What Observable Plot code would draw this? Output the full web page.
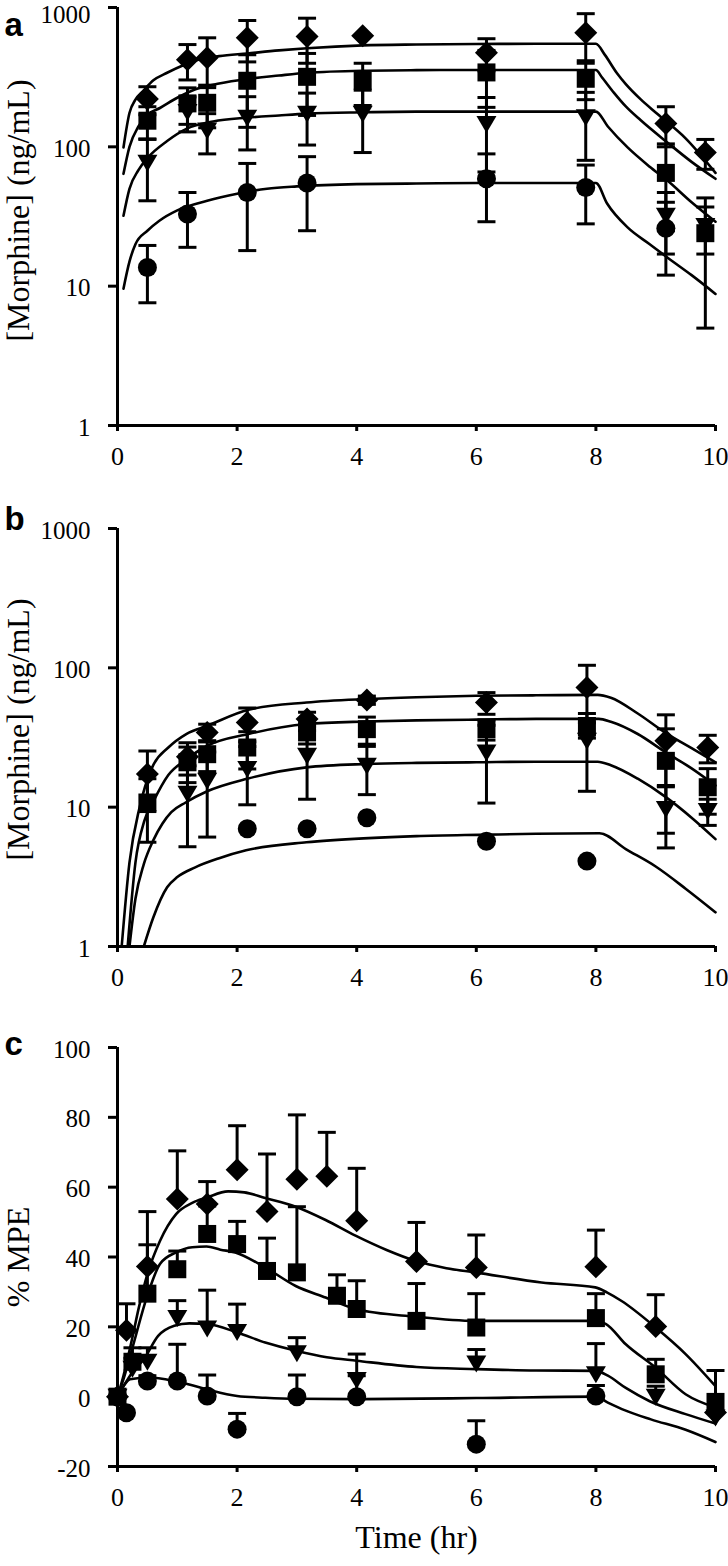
<!DOCTYPE html>
<html><head><meta charset="utf-8">
<script src="https://cdn.jsdelivr.net/npm/d3@7"></script>
<script src="https://cdn.jsdelivr.net/npm/@observablehq/plot@0.6"></script>
<style>
body{margin:0;background:#fff;}
#wrap{position:relative;width:728px;height:1566px;background:#fff;overflow:hidden;}
#wrap > svg{position:absolute;left:0;}
</style></head><body><div id="wrap"></div>
<script>
// ---------- Panel a : plasma morphine (log) ----------
const aTime = [0.5, 1.17, 1.5, 2.17, 3.17, 4.1, 6.17, 7.83, 9.17, 9.83];
const aDiamond   = [220, 422, 436, 607, 618, 628, 474, 659, 147, 91];
const aDiamondSD = [50, 120, 170, 200, 220, 0, 123, 244, 47, 22];
const aSquare    = [154, 205, 207, 298, 318, 298, 342, 308, 65, 24];
const aSquareSD  = [40, 60, 70, 160, 150, 100, 150, 90, 40, 19];
const aTriangle   = [77, 178, 131, 162, 173, 173, 146, 163, 32, 27];
const aTriangleSD = [36, 50, 42, 67, 70, 82, 80, 83, 15, 10];
const aCircleTime = [0.5, 1.17, 2.17, 3.17, 6.17, 7.83, 9.17];
const aCircle     = [13.6, 33, 47, 55, 59, 51, 26];
const aCircleSD   = [6, 14, 29, 30, 30, 23, 14];

const aFitDiamondT = [0.1, 0.2, 0.3, 0.43, 0.6, 0.83, 1.1, 1.38, 1.7, 2.17, 2.7, 3.17, 4.1, 5, 6, 7, 8, 8.15, 8.35, 8.5, 8.75, 9.03, 9.5, 10];
const aFitDiamond  = [99, 175, 218, 252, 300, 340, 385, 425, 448, 468, 492, 510, 535, 543, 547, 549, 549, 457, 339, 282, 219, 172, 115, 65];
const aFitSquareT  = [0.1, 0.2, 0.35, 0.5, 0.71, 1.0, 1.38, 1.7, 2.17, 2.7, 3.17, 4.1, 5, 6, 7, 8, 8.1, 8.3, 8.5, 8.75, 9.2, 9.6, 10];
const aFitSquare   = [64, 100, 140, 170, 190, 225, 265, 285, 307, 325, 340, 352, 355, 356, 356, 356, 316, 245, 195, 155, 107, 78, 59];
const aFitTriT     = [0.1, 0.2, 0.35, 0.5, 0.83, 1.16, 1.6, 2.17, 2.7, 3.17, 4.1, 5, 6, 7, 8, 8.2, 8.53, 8.9, 9.2, 9.6, 10];
const aFitTri      = [32, 50, 68, 83, 110, 135, 152, 162, 168, 173, 177, 179, 179, 179, 179, 140, 99, 72, 57, 40, 29];
const aFitCircT    = [0.1, 0.2, 0.3, 0.5, 0.7, 1.0, 1.5, 2.0, 2.5, 3.0, 4.0, 5, 6, 7, 8, 8.19, 8.53, 8.9, 9.2, 9.6, 10];
const aFitCirc     = [9.6, 15, 20, 25, 29.5, 35, 41, 46, 50, 52, 54, 54.5, 55, 55, 55, 39, 26.4, 20, 16, 12, 8.8];

// ---------- Panel b : brain morphine (log) ----------
const bTime = [0.5, 1.17, 1.5, 2.17, 3.17, 4.17, 6.17, 7.85, 9.17, 9.87];
const bDiamond   = [17.3, 23, 34.4, 40.5, 43, 58.7, 56.4, 72.3, 30, 26.8];
const bDiamondSD = [8, 6, 5, 11, 5, 4, 10, 32, 16, 6];
const bSquare    = [10.8, 21, 24, 26.8, 34.4, 36.3, 36.3, 37.3, 21.5, 13.9];
const bSquareSD  = [5.2, 6, 6, 8, 6, 8, 6, 6, 15, 5];
const bTriTime   = [1.17, 1.5, 2.17, 3.17, 4.17, 6.17, 7.85, 9.17, 9.87];
const bTriangle   = [12.5, 15.5, 18.8, 23.4, 19.8, 24.7, 30, 9.7, 9.4];
const bTriangleSD = [7.3, 9.4, 8.4, 12, 7.5, 14, 17, 4.6, 2];
const bCircleTime = [2.17, 3.17, 4.17, 6.17, 7.85];
const bCircle     = [7.0, 7.0, 8.4, 5.7, 4.1];

const bFitDiamondT = [0.07, 0.2, 0.37, 0.58, 0.85, 1.15, 1.5, 2.19, 3.16, 4.16, 5, 6, 7, 8.03, 8.25, 8.7, 9.17, 9.6, 10];
const bFitDiamond  = [1, 4, 10, 19.3, 26.8, 33.5, 38.4, 50, 56.4, 59.7, 61.5, 63, 63.5, 64, 61, 47, 34, 26.5, 21];
const bFitSquareT  = [0.17, 0.3, 0.45, 0.6, 0.85, 1.15, 1.5, 2.19, 3.16, 4.16, 5, 6, 7, 8.05, 8.25, 8.7, 9.17, 9.6, 10];
const bFitSquare   = [1, 4, 8, 11, 17, 22, 27.6, 33.5, 39.5, 41.2, 42, 42.5, 43, 43, 41, 33.5, 24.7, 19, 14.3];
const bFitTriT     = [0.2, 0.3, 0.44, 0.6, 0.75, 0.9, 1.14, 1.5, 2.17, 3.16, 4.16, 5, 6, 7, 8.03, 8.25, 8.7, 9.17, 9.6, 10];
const bFitTri      = [1, 2.2, 3.9, 5.8, 7.6, 9.2, 10.8, 13, 16, 19.3, 20.4, 20.8, 21, 21.2, 21.2, 20, 16, 11.8, 8.4, 5.9];
const bFitCircT    = [0.44, 0.6, 0.83, 1.0, 1.3, 1.7, 2.15, 3.16, 4.2, 5, 6.2, 7, 8.06, 8.5, 9.0, 9.5, 10];
const bFitCirc     = [1, 1.62, 2.66, 3.15, 3.7, 4.3, 4.9, 5.6, 6.0, 6.2, 6.35, 6.45, 6.5, 5.0, 3.75, 2.6, 1.76];

// ---------- Panel c : %MPE (linear) ----------
const cDiamondTime = [0, 0.15, 0.5, 1, 1.5, 2, 2.5, 3, 3.5, 4, 5, 6, 8, 9, 10];
const cDiamond     = [0, 19, 37.3, 56.6, 55.2, 65, 53, 62.3, 63.1, 50.4, 38.7, 37, 37.2, 20.1, -4.5];
const cDiamondSD   = [0, 7.6, 15.7, 13.8, 6.4, 12.6, 16.5, 18.4, 12.6, 15, 11.2, 9.3, 10.5, 9.1, 0];
const cSquareTime  = [0, 0.25, 0.5, 1, 1.5, 2, 2.5, 3, 3.67, 4, 5, 6, 8, 9, 10];
const cSquare      = [0, 10, 29.5, 36.5, 46.6, 43.7, 36, 35.6, 28.9, 25.1, 21.7, 19.8, 22.5, 6.4, -1.5];
const cSquareSD    = [0, 4, 14, 5.2, 8, 6.5, 9.4, 18.8, 6, 8.1, 10.7, 9.7, 7, 4.3, 9];
const cTriTime     = [0, 0.25, 0.5, 1, 1.5, 2, 3, 4, 6, 8, 9, 10];
const cTriangle    = [0, 8, 10, 22.5, 19.5, 18.5, 12.4, 4.8, 9.5, 6.4, 0, -6];
const cTriangleSD  = [0, 3, 4, 5, 11, 8, 4.5, 7.4, 4, 8.8, 3, 0];
const cCircleTime  = [0, 0.15, 0.5, 1, 1.5, 2, 3, 4, 6, 8];
const cCircle      = [0, -4.6, 4.5, 4.5, 0.2, -9.3, 0, 0, -13.6, 0.2];
const cCircleSD    = [0, 0, 1.5, 10.5, 6, 4.5, 6.2, 6, 6.7, 3];

const cFitDiamondT = [0, 0.1, 0.25, 0.35, 0.5, 0.71, 0.98, 1.25, 1.49, 1.85, 2.12, 2.47, 2.98, 3.48, 3.98, 4.5, 4.98, 5.5, 5.98, 7.09, 7.99, 8.19, 8.43, 9.0, 9.5, 10];
const cFitDiamond  = [0, 6, 17, 25, 35.1, 44.6, 52.3, 55.5, 57, 58.8, 58.5, 56.9, 54.4, 50.6, 46.1, 42, 38.9, 36.8, 35.6, 32.7, 31.3, 29.8, 27.4, 19.8, 12.2, 3.0];
const cFitSquareT  = [0, 0.1, 0.25, 0.5, 0.71, 0.98, 1.25, 1.49, 1.72, 1.97, 2.47, 2.98, 3.48, 3.98, 4.98, 5.98, 7, 7.99, 8.17, 8.5, 9.0, 9.5, 10];
const cFitSquare   = [0, 5, 14, 29, 38, 41.3, 42.8, 43, 42.1, 41.3, 37, 31.7, 28.4, 25.1, 22.9, 21.7, 21.7, 21.7, 20.8, 15, 8.3, 0.7, -3.1];
const cFitTriT     = [0, 0.1, 0.25, 0.44, 0.68, 0.95, 1.2, 1.5, 2.0, 2.47, 3.0, 3.5, 4.0, 5, 6, 7, 8, 8.2, 8.5, 8.9, 9.5, 10];
const cFitTri      = [0, 3, 7, 10.7, 17.4, 20.3, 21, 20.8, 18.4, 15.5, 13.1, 11.3, 10.3, 8.5, 7.9, 7.5, 7.4, 6, 2.5, -1.3, -5, -7.7];
const cFitCircT    = [0, 0.1, 0.21, 0.52, 0.95, 1.2, 1.5, 2.0, 2.47, 3.0, 4.0, 6.0, 8.0, 8.2, 8.5, 8.92, 9.5, 10];
const cFitCirc     = [0, 3, 5.0, 5.5, 4.5, 3.5, 2.1, 0.2, -0.3, -0.6, -0.7, -0.4, 0, -1.7, -4, -6.5, -9.5, -13];

const xTicks = [0, 2, 4, 6, 8, 10];
const logTicks = [1, 10, 100, 1000];
const mpeTicks = [-20, 0, 20, 40, 60, 80, 100];

// ---------- drawing ----------
const serif = "'Liberation Serif','Times New Roman',Times,serif";
const sans = "'Liberation Sans',Arial,Helvetica,sans-serif";

const symDiamond = {draw(c){c.moveTo(0,-11.5);c.lineTo(11.5,0);c.lineTo(0,11.5);c.lineTo(-11.5,0);c.closePath();}};
const symSquare  = {draw(c){c.rect(-9,-9,18,18);}};
const symTriDown = {draw(c){c.moveTo(-10,-8);c.lineTo(10,-8);c.lineTo(0,9);c.closePath();}};
const symCircle  = {draw(c){c.moveTo(9.5,0);c.arc(0,0,9.5,0,2*Math.PI);}};
const symCap     = {draw(c){c.moveTo(-9,0);c.lineTo(9,0);}};

function panel(cfg) {
  const errs = [], caps = [];
  const dotMarks = [];
  for (const s of cfg.series) {
    const pts = s.t.map((t, i) => ({t, v: s.v[i]}));
    s.t.forEach((t, i) => {
      const v = s.v[i], sd = s.sd ? s.sd[i] : 0;
      if (sd > 0) {
        const lo = cfg.upOnly ? v : v - sd, hi = v + sd;
        errs.push({t, lo, hi});
        caps.push({t, y: hi});
        if (!cfg.upOnly) caps.push({t, y: lo});
      }
    });
    dotMarks.push(Plot.dot(pts, {x: "t", y: "v", symbol: s.sym, fill: "black", stroke: "none"}));
  }
  const lines = cfg.curves.flatMap((c, k) => c.t.map((t, i) => ({t, v: c.v[i], k})));
  const topTick = cfg.ticks[cfg.ticks.length - 1];
  const restTicks = cfg.ticks.slice(0, -1);
  const labelOpts = {tickFormat: d => String(d), tickSize: 0, tickPadding: 27, fontSize: 25, fontFamily: serif, label: null};
  return Plot.plot({
    width: 728, height: cfg.height,
    marginTop: cfg.mt, marginBottom: cfg.mb, marginLeft: 117, marginRight: 13,
    style: {fontFamily: serif, fontSize: "25px", background: "white", color: "black", overflow: "visible"},
    x: {domain: [0, 10]},
    y: cfg.y,
    marks: [
      Plot.line(lines, {x: "t", y: "v", z: "k", curve: "monotone-x", stroke: "black", strokeWidth: 2.6}),
      Plot.ruleX(errs, {x: "t", y1: "lo", y2: "hi", stroke: "black", strokeWidth: 3}),
      Plot.dot(caps, {x: "t", y: "y", symbol: symCap, stroke: "black", strokeWidth: 3, fill: "none"}),
      ...dotMarks,
      Plot.ruleX([0], {stroke: "black", strokeWidth: 3}),
      Plot.ruleY([cfg.y.domain[0]], {stroke: "black", strokeWidth: 3}),
      Plot.axisX({ticks: xTicks, tickFormat: d => String(d), tickSize: 6, tickPadding: 15, strokeWidth: 3, fontSize: 26, fontFamily: serif, label: null}),
      Plot.axisY({ticks: cfg.ticks, tickFormat: () => "", tickSize: 9, strokeWidth: 3, label: null}),
      Plot.axisY({ticks: restTicks, ...labelOpts, dy: 2}),
      Plot.axisY({ticks: [topTick], ...labelOpts, dy: cfg.topDy}),
      Plot.text([cfg.yLabel], {text: d => d, frameAnchor: "left", textAnchor: "middle", rotate: -90, dx: -98.5, dy: cfg.labelDy, fontSize: 32, fontFamily: serif}),
      Plot.text([cfg.letter], {text: d => d, frameAnchor: "top-left", textAnchor: "start", dx: -113, dy: cfg.letterDy, fontSize: 33, fontWeight: "bold", fontFamily: sans}),
      ...(cfg.xLabel ? [Plot.text([cfg.xLabel], {text: d => d, frameAnchor: "bottom", textAnchor: "middle", dy: 81, fontSize: 32, fontFamily: serif})] : [])
    ]
  });
}

const wrap = document.getElementById("wrap");
const panels = [
  {top: 0, height: 480, mt: 7, mb: 55, letter: "a", letterDy: 5.4, labelDy: -6, topDy: 7.5,
   yLabel: "[Morphine] (ng/mL)", y: {type: "log", domain: [1, 1000]}, ticks: logTicks, upOnly: false,
   series: [
     {t: aTime, v: aDiamond, sd: aDiamondSD, sym: symDiamond},
     {t: aTime, v: aSquare, sd: aSquareSD, sym: symSquare},
     {t: aTime, v: aTriangle, sd: aTriangleSD, sym: symTriDown},
     {t: aCircleTime, v: aCircle, sd: aCircleSD, sym: symCircle}],
   curves: [{t: aFitDiamondT, v: aFitDiamond}, {t: aFitSquareT, v: aFitSquare}, {t: aFitTriT, v: aFitTri}, {t: aFitCircT, v: aFitCirc}]},
  {top: 480, height: 520, mt: 48, mb: 54, letter: "b", letterDy: -21.6, labelDy: -8, topDy: 2,
   yLabel: "[Morphine] (ng/mL)", y: {type: "log", domain: [1, 1000]}, ticks: logTicks, upOnly: false,
   series: [
     {t: bTime, v: bDiamond, sd: bDiamondSD, sym: symDiamond},
     {t: bTime, v: bSquare, sd: bSquareSD, sym: symSquare},
     {t: bTriTime, v: bTriangle, sd: bTriangleSD, sym: symTriDown},
     {t: bCircleTime, v: bCircle, sd: null, sym: symCircle}],
   curves: [{t: bFitDiamondT, v: bFitDiamond}, {t: bFitSquareT, v: bFitSquare}, {t: bFitTriT, v: bFitTri}, {t: bFitCircT, v: bFitCirc}]},
  {top: 1000, height: 566, mt: 47, mb: 100, letter: "c", letterDy: -15.6, labelDy: 0, topDy: 2, xLabel: "Time (hr)",
   yLabel: "% MPE", y: {domain: [-20, 100]}, ticks: mpeTicks, upOnly: true,
   series: [
     {t: cDiamondTime, v: cDiamond, sd: cDiamondSD, sym: symDiamond},
     {t: cSquareTime, v: cSquare, sd: cSquareSD, sym: symSquare},
     {t: cTriTime, v: cTriangle, sd: cTriangleSD, sym: symTriDown},
     {t: cCircleTime, v: cCircle, sd: cCircleSD, sym: symCircle}],
   curves: [{t: cFitDiamondT, v: cFitDiamond}, {t: cFitSquareT, v: cFitSquare}, {t: cFitTriT, v: cFitTri}, {t: cFitCircT, v: cFitCirc}]}
];
for (const p of panels) {
  const svg = panel(p);
  svg.style.top = p.top + "px";
  wrap.appendChild(svg);
}
</script></body></html>
